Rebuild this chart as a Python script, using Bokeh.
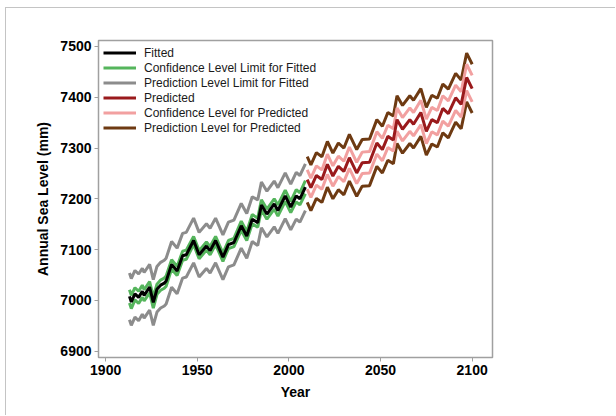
from bokeh.plotting import figure
from bokeh.models import Range1d, Legend, LegendItem, FixedTicker, InlineStyleSheet
from bokeh.embed import file_html
from bokeh.resources import INLINE

# ---- data ----
fit_year = [1913, 1914, 1916, 1918, 1920, 1921, 1924, 1926, 1928, 1930, 1932, 1933,
            1936, 1939, 1942, 1944, 1948, 1951, 1955, 1957, 1960, 1964, 1967, 1970,
            1974, 1977, 1980, 1983, 1985, 1988, 1992, 1994, 1998, 2001, 2004, 2006, 2009]
fit_val = [7008, 6997, 7013, 7006, 7018, 7010, 7026, 6996, 7022, 7030, 7034, 7038,
           7071, 7058, 7088, 7090, 7118, 7090, 7107, 7098, 7118, 7085, 7110, 7114,
           7147, 7127, 7160, 7153, 7188, 7170, 7190, 7177, 7206, 7184, 7206, 7200, 7223]
fit_ci_half = [13, 13, 12, 12, 12, 11, 11, 11, 10, 10, 10, 10, 9, 9, 9, 9, 8, 8, 8, 8,
               8, 8, 8, 8, 9, 9, 9, 9, 10, 10, 10, 11, 11, 11, 12, 12, 13]
fit_pi_half = [46, 46, 46, 46, 45, 45, 45, 45, 45, 45, 45, 45, 45, 45, 44, 44, 44, 44,
               44, 44, 44, 44, 44, 44, 44, 44, 44, 45, 45, 45, 45, 45, 45, 45, 46, 46, 46]

pred_year = [2010, 2012, 2015, 2018, 2021, 2024, 2027, 2030, 2033, 2037, 2040, 2044,
             2048, 2051, 2054, 2057, 2059, 2062, 2066, 2068, 2072, 2075, 2078, 2081,
             2084, 2087, 2091, 2094, 2097, 2100]
pred_val = [7238, 7222, 7246, 7238, 7268, 7245, 7264, 7254, 7281, 7251, 7271, 7272,
            7310, 7297, 7323, 7316, 7356, 7337, 7356, 7347, 7370, 7333, 7356, 7350,
            7378, 7368, 7399, 7386, 7439, 7417]
pred_ci_half = [19, 19, 19, 19, 20, 20, 20, 20, 21, 21, 21, 21, 22, 22, 22, 22, 23, 23,
                23, 23, 24, 24, 24, 24, 25, 25, 25, 25, 26, 26]
pred_pi_half = [45, 45, 45, 45, 45, 45, 46, 46, 46, 46, 46, 46, 46, 46, 47, 47, 47, 47,
                47, 47, 47, 47, 48, 48, 48, 48, 48, 48, 48, 48]

x_ticks = [1900, 1950, 2000, 2050, 2100]
y_ticks = [6900, 7000, 7100, 7200, 7300, 7400, 7500]

fit_ci_lo = [v - h for v, h in zip(fit_val, fit_ci_half)]
fit_ci_hi = [v + h for v, h in zip(fit_val, fit_ci_half)]
fit_pi_lo = [v - h for v, h in zip(fit_val, fit_pi_half)]
fit_pi_hi = [v + h for v, h in zip(fit_val, fit_pi_half)]
pred_ci_lo = [v - h for v, h in zip(pred_val, pred_ci_half)]
pred_ci_hi = [v + h for v, h in zip(pred_val, pred_ci_half)]
pred_pi_lo = [v - h for v, h in zip(pred_val, pred_pi_half)]
pred_pi_hi = [v + h for v, h in zip(pred_val, pred_pi_half)]

C_FIT = "#000000"
C_FIT_CI = "#55b55c"
C_FIT_PI = "#8c8c8c"
C_PRED = "#9a1a1c"
C_PRED_CI = "#f2a0a0"
C_PRED_PI = "#6e3a12"

p = figure(width=610, height=408, output_backend="svg", toolbar_location=None,
           x_range=Range1d(1896.1, 2111.1), y_range=Range1d(6887.6, 7511.8),
           min_border_left=92, min_border_right=124, min_border_top=32, min_border_bottom=59)
p.margin = (7, 0, 0, 5)
p.stylesheets = [InlineStyleSheet(css=":host { border-left: 1px solid #c4c4c4; border-top: 1px solid #c4c4c4; }")]

p.xgrid.visible = False
p.ygrid.visible = False
p.outline_line_color = "#a0a0a0"
p.outline_line_width = 1.5

lw = 3
r_pi_hi = p.line(fit_year, fit_pi_hi, line_color=C_FIT_PI, line_width=lw)
p.line(fit_year, fit_pi_lo, line_color=C_FIT_PI, line_width=lw)
r_ci_hi = p.line(fit_year, fit_ci_hi, line_color=C_FIT_CI, line_width=lw)
p.line(fit_year, fit_ci_lo, line_color=C_FIT_CI, line_width=lw)
r_fit = p.line(fit_year, fit_val, line_color=C_FIT, line_width=lw)

r_ppi = p.line(pred_year, pred_pi_hi, line_color=C_PRED_PI, line_width=lw)
p.line(pred_year, pred_pi_lo, line_color=C_PRED_PI, line_width=lw)
r_pci = p.line(pred_year, pred_ci_hi, line_color=C_PRED_CI, line_width=lw)
p.line(pred_year, pred_ci_lo, line_color=C_PRED_CI, line_width=lw)
r_pred = p.line(pred_year, pred_val, line_color=C_PRED, line_width=lw)

legend = Legend(items=[
    LegendItem(label="Fitted", renderers=[r_fit]),
    LegendItem(label="Confidence Level Limit for Fitted", renderers=[r_ci_hi]),
    LegendItem(label="Prediction Level Limit for Fitted", renderers=[r_pi_hi]),
    LegendItem(label="Predicted", renderers=[r_pred]),
    LegendItem(label="Confidence Level for Predicted", renderers=[r_pci]),
    LegendItem(label="Prediction Level for Predicted", renderers=[r_ppi]),
], location="top_left")
legend.border_line_alpha = 0
legend.background_fill_alpha = 0
legend.margin = 1
legend.padding = 4
legend.spacing = 0
legend.glyph_width = 33
legend.glyph_height = 15
legend.label_height = 15
legend.label_standoff = 8
legend.label_text_font = "Liberation Sans"
legend.label_text_font_size = "12px"
legend.label_text_color = "#1a1a1a"
p.add_layout(legend)

for ax in (p.xaxis[0], p.yaxis[0]):
    ax.axis_line_color = "#a0a0a0"
    ax.major_tick_line_color = "#a0a0a0"
    ax.minor_tick_line_color = None
    ax.major_tick_out = 4
    ax.major_tick_in = 0
    ax.major_label_text_font = "Liberation Sans"
    ax.major_label_text_font_style = "bold"
    ax.major_label_text_font_size = "14px"
    ax.major_label_text_color = "#000000"
    ax.axis_label_text_font = "Liberation Sans"
    ax.axis_label_text_font_style = "bold"
    ax.axis_label_text_font_size = "14px"
    ax.axis_label_text_color = "#000000"
    ax.major_label_standoff = 3

p.xaxis[0].ticker = FixedTicker(ticks=x_ticks)
p.yaxis[0].ticker = FixedTicker(ticks=y_ticks)
p.xaxis[0].axis_label = "Year"
p.yaxis[0].axis_label = "Annual Sea Level (mm)"
p.xaxis[0].axis_label_standoff = 6
p.yaxis[0].axis_label_standoff = 6

open("out.html", "w").write(file_html(p, INLINE))
